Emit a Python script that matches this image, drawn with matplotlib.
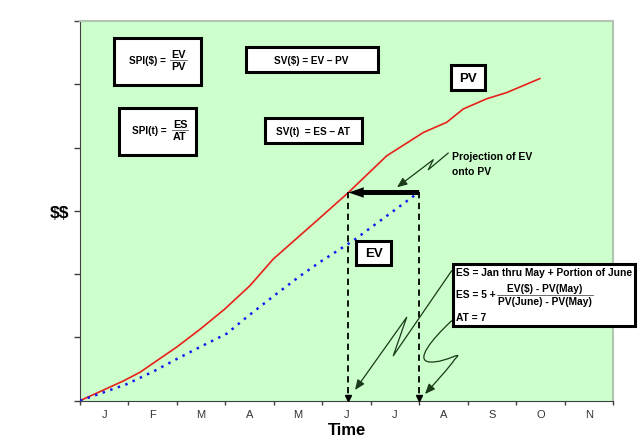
import matplotlib
matplotlib.use("Agg")
import matplotlib.pyplot as plt
from matplotlib.patches import Rectangle, FancyArrowPatch
from matplotlib.lines import Line2D
from matplotlib.path import Path
from matplotlib.transforms import Affine2D

# Months on the time axis
months = ["J", "F", "M", "A", "M", "J", "J", "A", "S", "O", "N"]

# Planned value (red), x in months, y in tick units
pv_x = [0, 0.89, 1.24, 2.0, 2.48, 2.99, 3.51, 3.99, 4.88, 5.54, 6.33, 7.09, 7.57, 7.91, 8.39, 8.81, 9.49]
pv_y = [0, 0.31, 0.45, 0.85, 1.13, 1.45, 1.82, 2.24, 2.84, 3.29, 3.87, 4.24, 4.40, 4.61, 4.77, 4.87, 5.09]

# Earned value (blue dotted)
ev_x = [0, 0.96, 1.51, 2.0, 2.48, 3.03, 3.44, 3.99, 4.54, 4.95, 5.64, 6.33, 6.95, 7.0]
ev_y = [0, 0.26, 0.46, 0.66, 0.85, 1.06, 1.32, 1.65, 1.97, 2.19, 2.53, 2.92, 3.27, 3.29]

es_time = 5.54   # earned schedule
at_time = 7.0    # actual time
ev_now = 3.29    # EV at actual time

W, H = 640, 439
BG = "#ccffcc"
FONT = ["Liberation Sans", "DejaVu Sans"]
plt.rcParams["font.family"] = FONT

fig = plt.figure(figsize=(6.4, 4.39), dpi=100)
ax = fig.add_axes([80 / W, 1 - 401.7 / H, (613 - 80) / W, (401.7 - 22) / H])
ax.set_facecolor(BG)

# pixel transform (y down) for annotation boxes
px = Affine2D().scale(1 / W, -1 / H).translate(0, 1) + fig.transFigure

ax.plot(pv_x, pv_y, color="#e8201a", lw=1.2, zorder=3)
ax.plot(ev_x, ev_y, color="#1a1aee", lw=1.8, linestyle=(0, (1.0, 2.2)), zorder=3)

# dashed drop lines for ES and AT
for t in (es_time, at_time):
    ax.plot([t, t], [ev_now, 0.05], color="black", lw=1.3, linestyle=(0, (3.5, 2.5)), zorder=4)
    ax.plot([t], [0.04], marker="v", color="black", markersize=4, clip_on=False, zorder=5)

# thick projection arrow
ax.annotate("", xy=(es_time, ev_now), xytext=(at_time, ev_now),
            arrowprops=dict(arrowstyle="simple,head_length=1.1,head_width=0.75,tail_width=0.36",
                            mutation_scale=10, color="black", lw=0, shrinkA=0, shrinkB=0),
            zorder=6)

ax.set_xlim(0, 11)
ax.set_ylim(0, 6)
ax.set_xticks(range(12))
ax.set_xticklabels([])
ax.set_xticks([i + 0.5 for i in range(11)], minor=True)
ax.set_xticklabels(months, minor=True, fontsize=8, color="#333333")
ax.tick_params(axis="x", which="minor", length=0, pad=6)
ax.tick_params(axis="x", which="major", length=3, width=1, color="#404040", direction="out")
ax.set_yticks(range(7))
ax.set_yticklabels(["", "", "", r"\$\$", "", "", ""], fontsize=12.5, fontweight="bold")
ax.tick_params(axis="y", length=4, width=1, color="#404040", direction="out", pad=4)
for s in ("left", "bottom"):
    ax.spines[s].set_color("#404040")
for s in ("top", "right"):
    ax.spines[s].set_color("#b4c4b4")
    ax.spines[s].set_linewidth(1.5)
ax.set_xlabel("Time", fontsize=12, fontweight="bold", labelpad=2)

FS = 7.2


def box(x0, y0, x1, y1, lw=2.2):
    fig.add_artist(Rectangle((x0, y0), x1 - x0, y1 - y0, transform=px,
                             facecolor="white", edgecolor="black", lw=lw, zorder=7))


def txt(x, y, s, ha="left", size=FS):
    fig.text(x, y, s, transform=px, ha=ha, va="center", fontsize=size,
             fontweight="bold", zorder=8, parse_math=False)


def frac(xc, y, num, den, half, size=FS):
    txt(xc, y - 6, num, ha="center", size=size)
    txt(xc, y + 6.5, den, ha="center", size=size)
    fig.add_artist(Line2D([xc - half, xc + half], [y, y], transform=px,
                          color="#555555", lw=0.6, zorder=8))


box(113.5, 38.5, 200.5, 85.5)
txt(166, 61, "SPI($) =", ha="right")
frac(178, 60.5, "EV", "PV", 8.5, size=7.8)

box(118.5, 109, 196, 156)
txt(167, 131, "SPI(t) =", ha="right")
frac(180, 131, "ES", "AT", 8, size=7.8)

box(246, 48, 378, 73)
txt(311, 60.5, "SV($) = EV \u2013 PV", ha="center")

box(265, 119, 362, 144)
txt(313, 132, "SV(t)  = ES \u2013 AT", ha="center")

box(451, 66, 485, 91)
txt(468, 79, "PV", ha="center", size=9.5)

box(356, 242, 391, 266)
txt(373.5, 254, "EV", ha="center", size=9.5)

box(453, 264.5, 635, 327)
txt(456, 273.5, "ES = Jan thru May + Portion of June", size=7.4)
txt(456, 295, "ES = 5 +", size=7.4)
frac(545, 295.5, "EV($) - PV(May)", "PV(June) - PV(May)", 48, size=7.4)
txt(456, 318.5, "AT = 7", size=7.4)

txt(452, 157, "Projection of EV", size=7.5)
txt(452, 172, "onto PV", size=7.5)


def pointer(verts, codes=None):
    if codes is None:
        codes = [Path.MOVETO] + [Path.LINETO] * (len(verts) - 1)
    fig.add_artist(FancyArrowPatch(path=Path(verts, codes), transform=px,
                                   arrowstyle="-|>,head_length=0.6,head_width=0.25",
                                   mutation_scale=10, color="#1a3a1a", lw=0.9, zorder=9))


pointer([(448.3, 154), (428.3, 170.7), (433.3, 160.7), (397, 188.3)])
pointer([(451.7, 271.7), (393.3, 356.7), (406.7, 318.3), (355, 391)])
pointer([(451.7, 321.7), (432, 340), (414, 362), (430, 363),
         (446, 364), (465, 350), (455, 360),
         (448, 370), (435, 384), (425, 395)],
        [Path.MOVETO] + [Path.CURVE4] * 9)

fig.savefig("out.png", dpi=100, facecolor="white")
